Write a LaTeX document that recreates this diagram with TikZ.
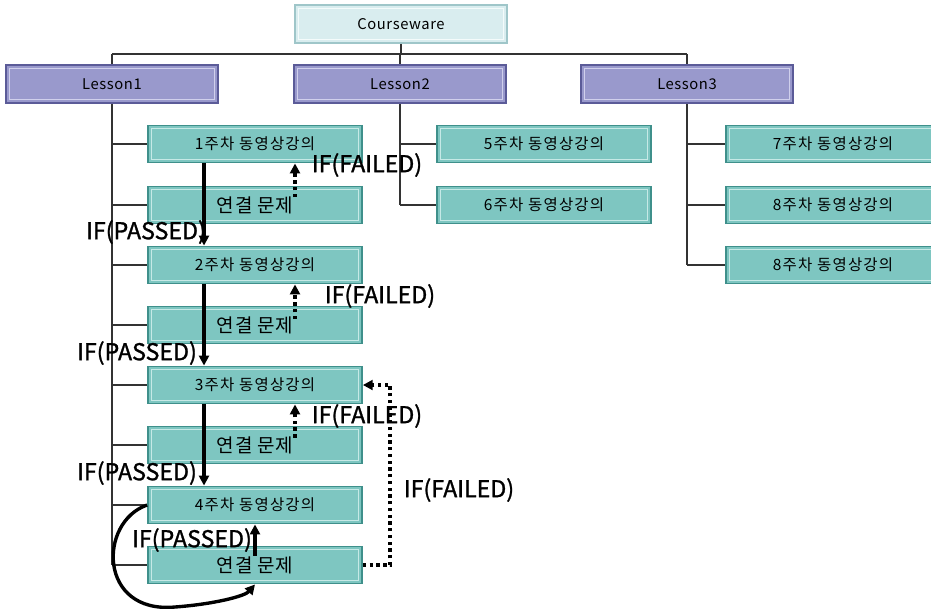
\documentclass[tikz,border=0pt]{standalone}
\usepackage{fontspec}
\setmainfont{Noto Sans CJK KR}
\newfontfamily\condfont[FakeBold=1.2]{Noto Sans CJK KR}
\usetikzlibrary{arrows.meta}
\definecolor{weekfill}{HTML}{7EC6C1}
\definecolor{weekline}{HTML}{3F908B}
\definecolor{weeklite}{HTML}{C6E9E6}
\definecolor{lessfill}{HTML}{9999CC}
\definecolor{lessline}{HTML}{5B5B98}
\definecolor{lesslite}{HTML}{D0D0EC}
\definecolor{topfill}{HTML}{D9EDEF}
\definecolor{topline}{HTML}{9FC6C9}
\definecolor{toplite}{HTML}{F4FBFB}
\definecolor{treeline}{HTML}{333333}
\tikzset{
  bevel/.style={draw=#1line, fill=#1fill, line width=1.2pt, inner sep=0pt,
    path picture={\draw[#1lite, line width=0.6pt]
      ([xshift=2.4pt,yshift=-2.4pt]path picture bounding box.north west) rectangle
      ([xshift=-2.4pt,yshift=2.4pt]path picture bounding box.south east);}},
  root/.style={bevel=top, minimum width=5.3cm, minimum height=0.95cm,
    font=\fontsize{10.5}{12}\selectfont\addfontfeature{LetterSpace=4}},
  lesson/.style={bevel=less, minimum width=5.3cm, minimum height=0.95cm,
    font=\fontsize{10.5}{12}\selectfont\addfontfeature{LetterSpace=4}},
  week/.style={bevel=week, minimum width=5.35cm, minimum height=0.93cm,
    font=\fontsize{11}{12}\selectfont\addfontfeature{LetterSpace=8}},
  quiz/.style={bevel=week, minimum width=5.35cm, minimum height=0.93cm,
    font=\fontsize{13.5}{15}\selectfont\addfontfeature{LetterSpace=4}},
  tree/.style={treeline, line width=0.8pt},
  pass/.style={line width=2.4pt, -{Triangle[length=7pt,width=7pt]}},
  fail/.style={line width=2.4pt, dash pattern=on 2.4pt off 2.4pt, -{Triangle[length=7pt,width=7pt]}},
  cond/.style={font=\condfont\fontsize{16.5}{18}\selectfont, inner sep=0pt}
}
\begin{document}
\begin{tikzpicture}[x=0.025cm, y=-0.025cm]
\clip (0,0) rectangle (931,608);
% boxes
\node[root] (CW) at (401,24) {Courseware};
\node[lesson] (L1) at (112,84) {Lesson1};
\node[lesson] (L2) at (400,84) {Lesson2};
\node[lesson] (L3) at (687,84) {Lesson3};
\node[week] (W1) at (255,144) {1주차 동영상강의};
\node[quiz] (Q1) at (255,205) {연결 문제};
\node[week] (W2) at (255,265) {2주차 동영상강의};
\node[quiz] (Q2) at (255,325) {연결 문제};
\node[week] (W3) at (255,385) {3주차 동영상강의};
\node[quiz] (Q3) at (255,445) {연결 문제};
\node[week] (W4) at (255,505) {4주차 동영상강의};
\node[quiz] (Q4) at (255,565) {연결 문제};
\node[week] (W5) at (544,144) {5주차 동영상강의};
\node[week] (W6) at (544,205) {6주차 동영상강의};
\node[week] (W7) at (833,144) {7주차 동영상강의};
\node[week] (W8) at (833,205) {8주차 동영상강의};
\node[week] (W9) at (833,265) {8주차 동영상강의};
% tree lines
\coordinate (bar) at (0,54);
\draw[tree] (CW.south) -- (CW.south |- bar);
\draw[tree] (L1.north |- bar) -- (L3.north |- bar);
\foreach \l in {L1,L2,L3} \draw[tree] (\l.north |- bar) -- (\l.north);
\draw[tree] (L1.south) -- (L1.south |- Q4);
\foreach \w in {W1,Q1,W2,Q2,W3,Q3,W4,Q4} \draw[tree] (L1.south |- \w) -- (\w.west);
\draw[tree] (L2.south) -- (L2.south |- W6);
\foreach \w in {W5,W6} \draw[tree] (L2.south |- \w) -- (\w.west);
\draw[tree] (L3.south) -- (L3.south |- W9);
\foreach \w in {W7,W8,W9} \draw[tree] (L3.south |- \w) -- (\w.west);
% flow arrows
\coordinate (pc) at (204,0);
\coordinate (fc) at (295,0);
\coordinate (rc) at (390,0);
\draw[pass] (W1.south -| pc) -- (W2.north -| pc);
\draw[pass] (W2.south -| pc) -- (W3.north -| pc);
\draw[pass] (W3.south -| pc) -- (W4.north -| pc);
\draw[fail] ([yshift=0.2cm]Q1.center -| fc) -- (W1.south -| fc);
\draw[fail] ([yshift=0.15cm]Q2.center -| fc) -- (W2.south -| fc);
\draw[fail] ([yshift=-0.3cm]Q3.north -| fc) -- (W3.south -| fc);
\draw[pass] ([yshift=-0.25cm]Q4.north) -- (W4.south);
\draw[pass] (W4.west) .. controls (98,522) and (98,614) .. (175,607)
  .. controls (215,604) and (245,596) .. (Q4.south);
\draw[fail] (Q4.east) -- (Q4.east -| rc) -- (W3.east -| rc) -- (W3.east);
% conditions
\node[cond] (p1) at (146,232) {IF(PASSED)};
\node[cond] (p2) at (137,353) {IF(PASSED)};
\node[cond] (p3) at (137,473) {IF(PASSED)};
\node[cond] (p4) at (192,540) {IF(PASSED)};
\node[cond] (f1) at (367,165) {IF(FAILED)};
\node[cond] (f2) at (380,296) {IF(FAILED)};
\node[cond] (f3) at (367,416) {IF(FAILED)};
\node[cond] (f4) at (459,490) {IF(FAILED)};
\end{tikzpicture}
\end{document}
